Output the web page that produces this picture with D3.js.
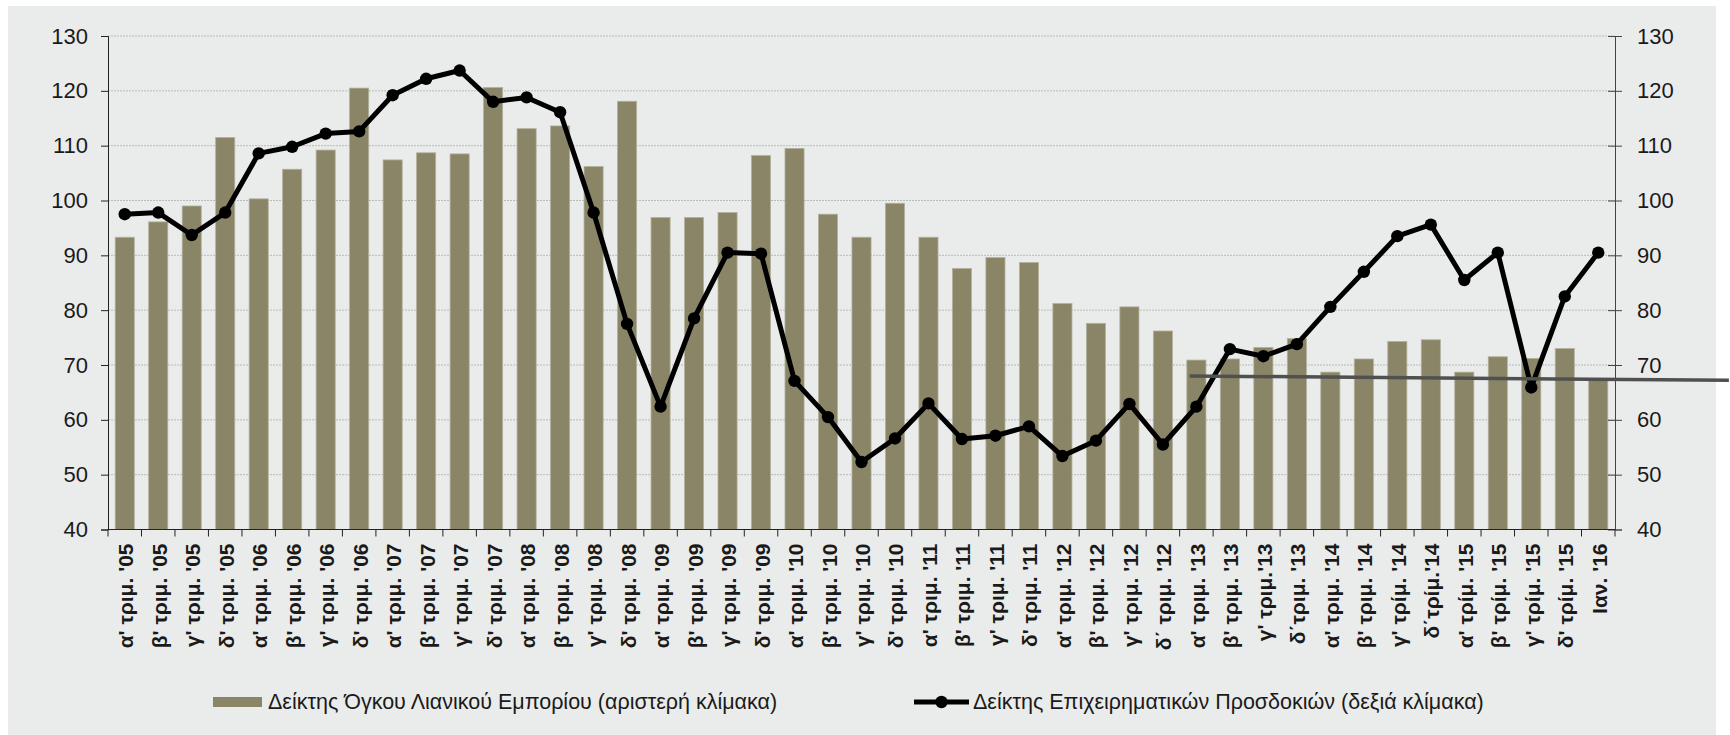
<!DOCTYPE html>
<html lang="el">
<head>
<meta charset="utf-8">
<title>Δείκτες Λιανικού Εμπορίου</title>
<script src="https://d3js.org/d3.v7.min.js"></script>
<style>
  body { margin: 0; background: #fff; }
  text { font-family: "Liberation Sans", Arial, sans-serif; fill: #1a1a1a; }
</style>
</head>
<body>
<script>
// categories (quarters) and tick labels
var categories = [
  "α' τριμ. '05", "β' τριμ. '05", "γ' τριμ. '05", "δ' τριμ. '05",
  "α' τριμ. '06", "β' τριμ. '06", "γ' τριμ. '06", "δ' τριμ. '06",
  "α' τριμ. '07", "β' τριμ. '07", "γ' τριμ. '07", "δ' τριμ. '07",
  "α' τριμ. '08", "β' τριμ. '08", "γ' τριμ. '08", "δ' τριμ. '08",
  "α' τριμ. '09", "β' τριμ. '09", "γ' τριμ. '09", "δ' τριμ. '09",
  "α' τριμ. '10", "β' τριμ. '10", "γ' τριμ. '10", "δ' τριμ. '10",
  "α' τριμ. '11", "β' τριμ. '11", "γ' τριμ. '11", "δ' τριμ. '11",
  "α' τριμ. '12", "β' τριμ. '12", "γ' τριμ. '12", "δ΄ τριμ. '12",
  "α' τριμ. '13", "β' τριμ. '13", "γ' τριμ.'13", "δ΄τριμ. '13",
  "α' τριμ. '14", "β' τριμ. '14", "γ' τρίμ. '14", "δ΄τρίμ.'14",
  "α' τρίμ. '15", "β' τρίμ. '15", "γ' τρίμ. '15", "δ' τρίμ. '15",
  "Ιαν. '16"
];

// retail trade volume index (left scale)
var retailVolume = [
  93.3, 96.1, 99.0, 111.5,
  100.3, 105.7, 109.2, 120.5,
  107.4, 108.7, 108.5, 120.6,
  113.1, 113.6, 106.2, 118.1,
  96.9, 96.9, 97.8, 108.2,
  109.5, 97.5, 93.3, 99.5,
  93.3, 87.6, 89.6, 88.7,
  81.2, 77.6, 80.6, 76.2,
  70.9, 71.1, 73.2, 74.8,
  68.7, 71.1, 74.3, 74.6,
  68.7, 71.5, 71.2, 73.0,
  67.3
];

// business expectations index (right scale)
var expectations = [
  97.5, 97.8, 93.7, 97.8,
  108.6, 109.8, 112.2, 112.6,
  119.2, 122.2, 123.7, 118.0,
  118.8, 116.1, 97.8, 77.5,
  62.4, 78.5, 90.5, 90.3,
  67.1, 60.5, 52.3, 56.6,
  63.0, 56.5, 57.1, 58.8,
  53.4, 56.2, 62.9, 55.5,
  62.4, 72.9, 71.6, 73.8,
  80.6, 87.0, 93.5, 95.6,
  85.5, 90.5, 65.9, 82.5,
  90.5
];

var yTicks = [40, 50, 60, 70, 80, 90, 100, 110, 120, 130];

// trend line: [category position, value]
var trendLine = [[32.3, 68.0], [48.4, 67.2]];

var legendLabels = [
  "Δείκτης Όγκου Λιανικού Εμπορίου (αριστερή κλίμακα)",
  "Δείκτης Επιχειρηματικών Προσδοκιών (δεξιά κλίμακα)"
];

var W = 1730, H = 735;
var plot = { left: 108, right: 1615, top: 36, bottom: 529.5 };

var svg = d3.select("body").append("svg")
    .attr("width", W)
    .attr("height", H);

// grey panel
svg.append("rect")
    .attr("x", 8).attr("y", 6)
    .attr("width", 1708).attr("height", H - 6)
    .attr("fill", "#eaeceb");

var x = d3.scaleBand()
    .domain(categories)
    .range([plot.left, plot.right])
    .paddingInner(0.43)
    .paddingOuter(0.215);

// continuous position along categories (for ticks and trend line)
var xPos = d3.scaleLinear()
    .domain([0, categories.length])
    .range([plot.left, plot.right]);

var yLeft = d3.scaleLinear().domain([40, 130]).range([plot.bottom, plot.top]);
var yRight = d3.scaleLinear().domain([40, 130]).range([plot.bottom, plot.top]);

// gridlines
svg.append("g")
  .selectAll("line")
  .data(yTicks.slice(1))
  .enter().append("line")
    .attr("x1", plot.left).attr("x2", plot.right)
    .attr("y1", function(d) { return yLeft(d); })
    .attr("y2", function(d) { return yLeft(d); })
    .attr("stroke", "#b9bbba")
    .attr("stroke-width", 1)
    .attr("stroke-dasharray", "2,1");

// bars
svg.append("g")
  .selectAll("rect")
  .data(retailVolume)
  .enter().append("rect")
    .attr("x", function(d, i) { return x(categories[i]); })
    .attr("width", x.bandwidth())
    .attr("y", function(d) { return yLeft(d); })
    .attr("height", function(d) { return yLeft(40) - yLeft(d); })
    .attr("fill", "#8a8566")
    .attr("stroke", "#b3b19c")
    .attr("stroke-width", 0.8);

// left axis
var gLeft = svg.append("g")
    .attr("transform", "translate(" + plot.left + ",0)")
    .call(d3.axisLeft(yLeft).tickValues(yTicks).tickSize(7).tickPadding(13).tickFormat(d3.format("d")));
gLeft.selectAll("text").style("font-size", "22px");
gLeft.select(".domain").attr("stroke", "#222");
gLeft.selectAll(".tick line").attr("stroke", "#222");

// right axis (ticks cross)
var gRight = svg.append("g")
    .attr("transform", "translate(" + plot.right + ",0)")
    .call(d3.axisRight(yRight).tickValues(yTicks).tickSize(7).tickPadding(15).tickFormat(d3.format("d")));
gRight.selectAll("text").style("font-size", "22px");
gRight.selectAll(".tick line").attr("x1", -7).attr("stroke", "#444");
gRight.select(".domain").attr("stroke", "#444");

// bottom axis
svg.append("line")
    .attr("x1", plot.left).attr("x2", plot.right)
    .attr("y1", plot.bottom).attr("y2", plot.bottom)
    .attr("stroke", "#222");

svg.append("g")
  .selectAll("line")
  .data(d3.range(categories.length + 1))
  .enter().append("line")
    .attr("x1", function(d) { return xPos(d); })
    .attr("x2", function(d) { return xPos(d); })
    .attr("y1", plot.bottom)
    .attr("y2", plot.bottom + 7)
    .attr("stroke", "#222");

svg.append("g")
  .selectAll("text")
  .data(categories)
  .enter().append("text")
    .attr("transform", function(d) {
      return "translate(" + (x(d) + x.bandwidth() / 2 + 1) + "," + (plot.bottom + 14) + ") rotate(-90)";
    })
    .attr("text-anchor", "end")
    .attr("dominant-baseline", "central")
    .style("font-size", "21px")
    .style("font-weight", "bold")
    .text(function(d) { return d; });

// expectations line
var line = d3.line()
    .x(function(d, i) { return x(categories[i]) + x.bandwidth() / 2; })
    .y(function(d) { return yRight(d); });

svg.append("path")
    .datum(expectations)
    .attr("d", line)
    .attr("fill", "none")
    .attr("stroke", "#000")
    .attr("stroke-width", 5)
    .attr("stroke-linejoin", "round");

svg.append("g")
  .selectAll("circle")
  .data(expectations)
  .enter().append("circle")
    .attr("cx", function(d, i) { return x(categories[i]) + x.bandwidth() / 2; })
    .attr("cy", function(d) { return yRight(d); })
    .attr("r", 6.2)
    .attr("fill", "#000");

// trend line
svg.append("line")
    .attr("x1", xPos(trendLine[0][0]))
    .attr("y1", yLeft(trendLine[0][1]))
    .attr("x2", xPos(trendLine[1][0]))
    .attr("y2", yLeft(trendLine[1][1]))
    .attr("stroke", "#505050")
    .attr("stroke-width", 3.5);

// legend
var legY = 702;
svg.append("rect")
    .attr("x", 213).attr("y", legY - 5)
    .attr("width", 49).attr("height", 10)
    .attr("fill", "#8a8566");
svg.append("text")
    .attr("x", 268).attr("y", legY)
    .attr("dominant-baseline", "central")
    .style("font-size", "21.5px")
    .text(legendLabels[0]);

svg.append("line")
    .attr("x1", 914).attr("x2", 969)
    .attr("y1", legY).attr("y2", legY)
    .attr("stroke", "#000").attr("stroke-width", 5);
svg.append("circle")
    .attr("cx", 941.5).attr("cy", legY).attr("r", 6.2).attr("fill", "#000");
svg.append("text")
    .attr("x", 973).attr("y", legY)
    .attr("dominant-baseline", "central")
    .style("font-size", "21.5px")
    .text(legendLabels[1]);
</script>
</body>
</html>
